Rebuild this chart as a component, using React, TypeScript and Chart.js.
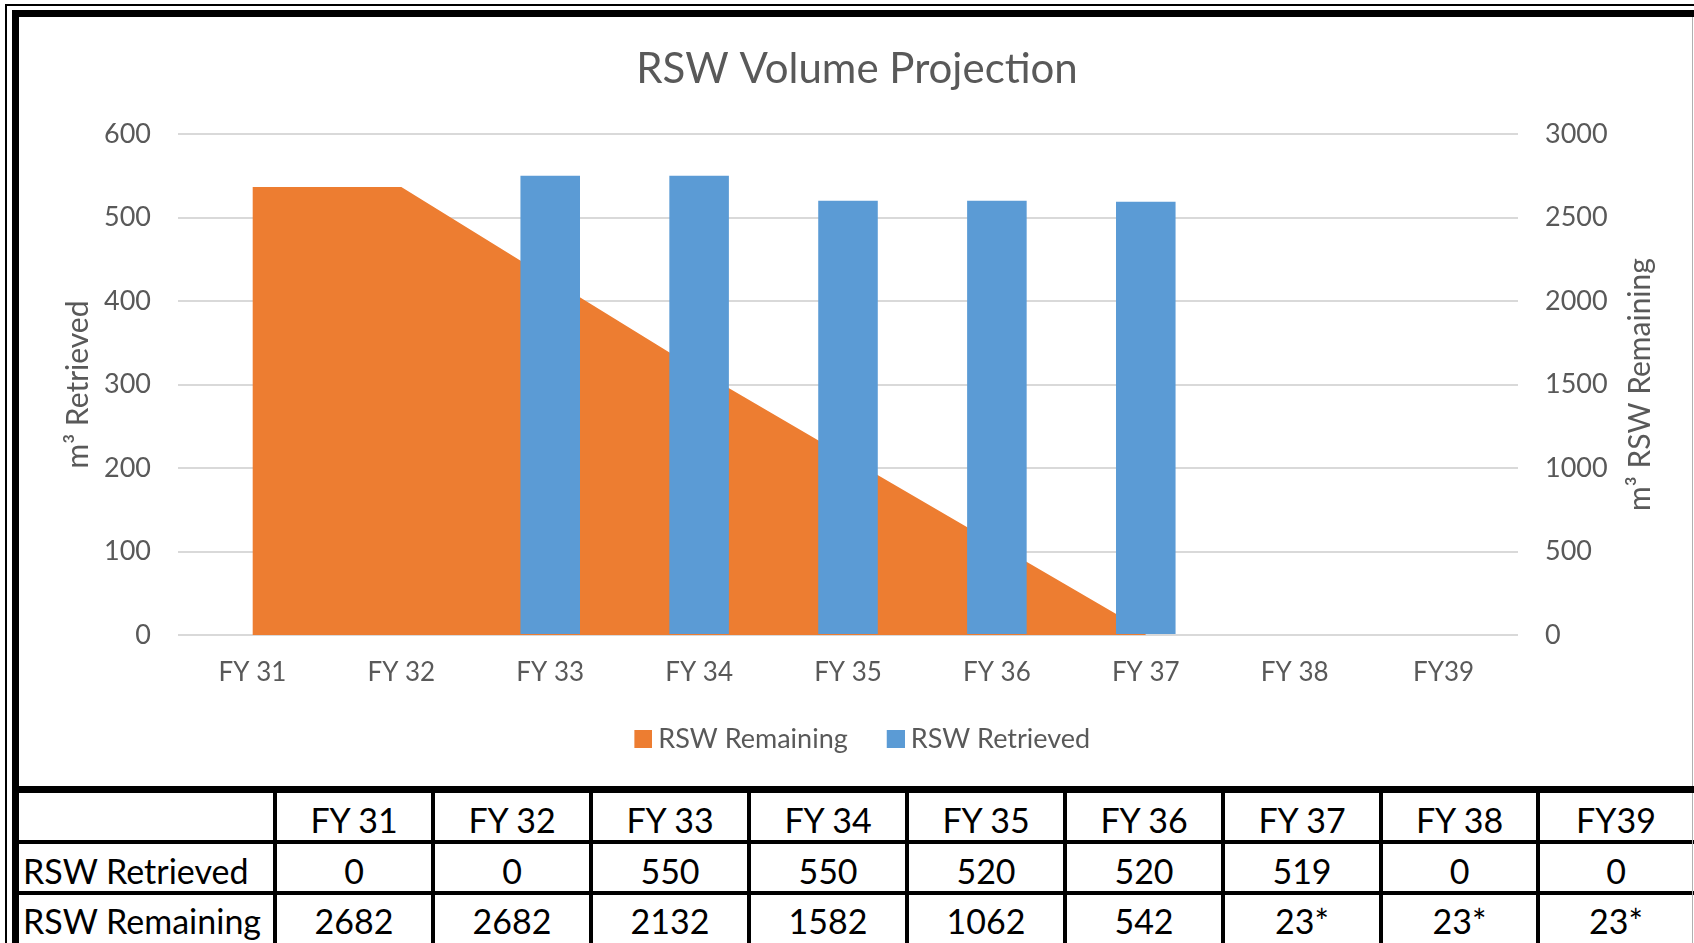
import React, { useEffect, useRef } from "react";
import { Chart, registerables } from "chart.js";

Chart.register(...registerables);

// ---------- data ----------
const categories = ["FY 31", "FY 32", "FY 33", "FY 34", "FY 35", "FY 36", "FY 37", "FY 38", "FY39"];
const retrievedValues = [0, 0, 550, 550, 520, 520, 519, 0, 0];
const remainingAreaValues: (number | null)[] = [2682, 2682, 2132, 1582, 1062, 542, 23, null, null];
const remainingTableLabels = ["2682", "2682", "2132", "1582", "1062", "542", "23*", "23*", "23*"];
const retrievedTableLabels = ["0", "0", "550", "550", "520", "520", "519", "0", "0"];
const chartTitle = "RSW Volume Projection";
const leftAxisTitle = "m³ Retrieved";
const rightAxisTitle = "m³ RSW Remaining";
const seriesRemaining = "RSW Remaining";
const seriesRetrieved = "RSW Retrieved";

// ---------- styles ----------
const FONT = "Lato";
const TEXT_GRAY = "#595959";
const ORANGE = "#ED7D31";
const BLUE = "#5B9BD5";
const GRID = "#d9d9d9";

const rightTitlePlugin = {
  id: "rightTitle",
  afterDraw(chart: any) {
    const { ctx, chartArea } = chart;
    const s = chart.scales.y1;
    ctx.save();
    ctx.translate(s.right - 34, (chartArea.top + chartArea.bottom) / 2);
    ctx.rotate(-Math.PI / 2);
    ctx.font = `30px ${FONT}`;
    ctx.fillStyle = TEXT_GRAY;
    ctx.textAlign = "center";
    ctx.textBaseline = "middle";
    ctx.fillText(rightAxisTitle, 0, 0);
    ctx.restore();
  },
};

function makeMarker(color: string) {
  const c = document.createElement("canvas");
  c.width = 36;
  c.height = 18;
  const g = c.getContext("2d")!;
  g.fillStyle = color;
  g.fillRect(18, 0, 18, 18);
  return c;
}

function ChartCanvas() {
  const ref = useRef<HTMLCanvasElement | null>(null);
  useEffect(() => {
    if (!ref.current) return;
    const markers = [makeMarker(ORANGE), makeMarker(BLUE)];
    const chart = new Chart(ref.current, {
      type: "bar",
      data: {
        labels: categories,
        datasets: [
          {
            type: "line",
            label: seriesRemaining,
            data: remainingAreaValues as any,
            yAxisID: "y1",
            backgroundColor: ORANGE,
            borderColor: "rgba(0,0,0,0)",
            borderWidth: 0,
            pointRadius: 0,
            pointHoverRadius: 0,
            pointBorderWidth: 0,
            fill: "origin",
            tension: 0,
            order: 2,
          } as any,
          {
            type: "bar",
            label: seriesRetrieved,
            data: retrievedValues,
            yAxisID: "y",
            backgroundColor: BLUE,
            borderWidth: 0,
            barPercentage: 0.4,
            categoryPercentage: 1,
            order: 1,
          },
        ],
      },
      options: {
        responsive: false,
        animation: false,
        devicePixelRatio: 1,
        layout: { padding: { top: 17, left: 40, right: 20, bottom: 23.5 } },
        plugins: {
          title: {
            display: true,
            text: chartTitle,
            color: TEXT_GRAY,
            font: { family: FONT, size: 42, weight: "normal" },
            padding: { top: 26.8, bottom: 39.8 },
          },
          legend: {
            position: "bottom",
            labels: {
              usePointStyle: true,
              boxWidth: 21,
              boxHeight: 18,
              padding: 28.5,
              color: TEXT_GRAY,
              font: { family: FONT, size: 27 },
              generateLabels: (ch: any) =>
                ch.data.datasets.map((ds: any, i: number) => ({
                  text: ds.label,
                  fillStyle: ds.backgroundColor,
                  strokeStyle: ds.backgroundColor,
                  lineWidth: 0,
                  pointStyle: markers[i],
                  hidden: false,
                  datasetIndex: i,
                  fontColor: TEXT_GRAY,
                })),
            },
          },
          tooltip: { enabled: false },
        },
        scales: {
          x: {
            offset: true,
            grid: { display: false, drawTicks: false },
            border: { display: false },
            ticks: {
              color: TEXT_GRAY,
              font: { family: FONT, size: 26 },
              padding: 22,
              maxRotation: 0,
              autoSkip: false,
            },
            afterFit: (s: any) => {
              s.height = 62;
            },
          },
          y: {
            position: "left",
            min: 0,
            max: 600,
            ticks: {
              stepSize: 100,
              color: TEXT_GRAY,
              font: { family: FONT, size: 27 },
              padding: 27,
              callback: (v: any) => String(v),
            },
            grid: { color: GRID, lineWidth: 2, drawTicks: false },
            border: { display: false },
            title: {
              display: true,
              text: leftAxisTitle,
              color: TEXT_GRAY,
              font: { family: FONT, size: 30 },
              padding: { top: 20, bottom: 0 },
            },
            afterFit: (s: any) => {
              s.width = 138;
            },
          },
          y1: {
            position: "right",
            min: 0,
            max: 3000,
            ticks: {
              stepSize: 500,
              color: TEXT_GRAY,
              font: { family: FONT, size: 27 },
              padding: 27,
              callback: (v: any) => String(v),
            },
            grid: { drawOnChartArea: false, drawTicks: false },
            border: { display: false },
            afterFit: (s: any) => {
              s.width = 156;
            },
          },
        },
      } as any,
      plugins: [rightTitlePlugin],
    });
    return () => chart.destroy();
  }, []);
  return (
    <canvas
      ref={ref}
      width={1694}
      height={786}
      style={{ position: "absolute", left: 0, top: 0, width: 1694, height: 786 }}
    />
  );
}

// table geometry
const colLines = [273, 431, 589, 747, 905, 1063, 1221, 1379, 1536];
const rowCenters = [820, 871, 921];

function Line(props: { x: number; y: number; w: number; h: number; c?: string }) {
  return (
    <div
      style={{
        position: "absolute",
        left: props.x,
        top: props.y,
        width: props.w,
        height: props.h,
        background: props.c || "#000",
      }}
    />
  );
}

function Cell(props: { x: number; w: number; cy: number; text: string; align?: "left" | "center" }) {
  return (
    <div
      style={{
        position: "absolute",
        left: props.x,
        top: props.cy - 22,
        width: props.w,
        height: 44,
        lineHeight: "44px",
        textAlign: props.align || "center",
        fontFamily: FONT,
        fontSize: 34,
        color: "#000",
        whiteSpace: "nowrap",
      }}
    >
      {props.text}
    </div>
  );
}

export default function App() {
  const cells: React.ReactNode[] = [];
  categories.forEach((c, i) => {
    const x0 = colLines[i] + 4;
    const x1 = i + 1 < colLines.length ? colLines[i + 1] : 1692;
    const w = x1 - x0;
    cells.push(<Cell key={"h" + i} x={x0} w={w} cy={rowCenters[0]} text={c} />);
    cells.push(<Cell key={"a" + i} x={x0} w={w} cy={rowCenters[1]} text={retrievedTableLabels[i]} />);
    cells.push(<Cell key={"b" + i} x={x0} w={w} cy={rowCenters[2]} text={remainingTableLabels[i]} />);
  });
  return (
    <div
      style={{
        position: "absolute",
        left: 0,
        top: 0,
        width: 1694,
        height: 943,
        overflow: "hidden",
        background: "#fff",
      }}
    >
      <ChartCanvas />
      {/* outer thin sheet lines */}
      <Line x={5} y={4} w={1689} h={2} />
      <Line x={5} y={4} w={2} h={939} />
      {/* thick chart frame */}
      <Line x={12} y={10} w={1682} h={7} />
      <Line x={12} y={10} w={7} h={933} />
      <Line x={1692} y={17} w={1} h={769} c="#b0b0b0" />
      <Line x={12} y={786} w={1682} h={7} />
      {/* table */}
      <Line x={19} y={840} w={1675} h={4} />
      <Line x={19} y={891} w={1675} h={4} />
      {colLines.map((x, i) => (
        <Line key={"v" + i} x={x} y={793} w={4} h={150} />
      ))}
      <Line x={1692} y={793} w={1} h={150} c="#b0b0b0" />
      <Cell x={23} w={250} cy={rowCenters[1]} text={seriesRetrieved} align="left" />
      <Cell x={23} w={250} cy={rowCenters[2]} text={seriesRemaining} align="left" />
      {cells}
    </div>
  );
}
